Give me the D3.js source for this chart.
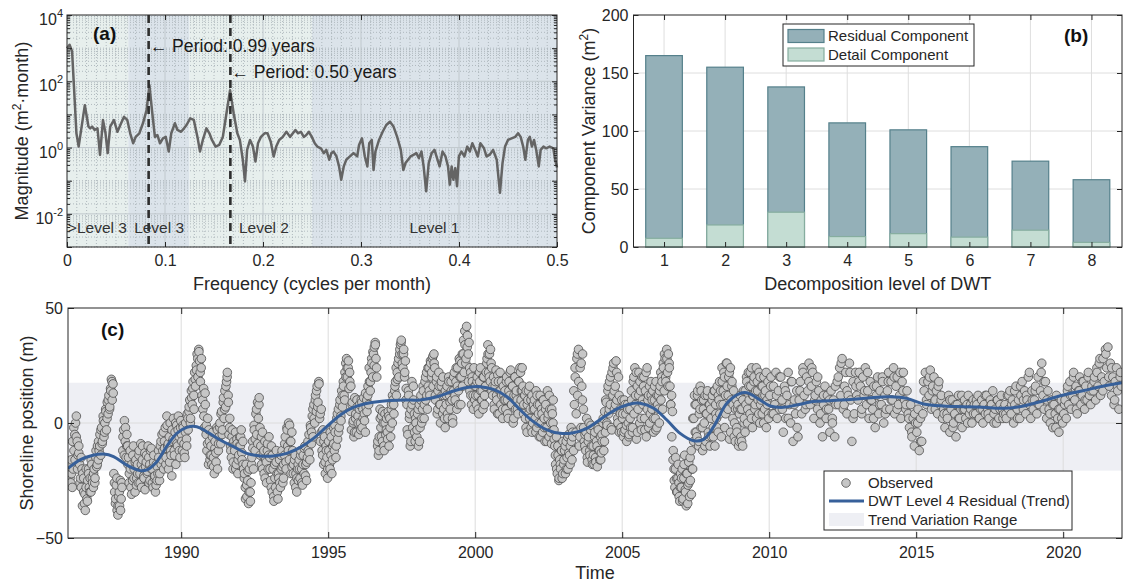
<!DOCTYPE html>
<html>
<head>
<meta charset="utf-8">
<script src="https://cdn.jsdelivr.net/npm/d3@7"></script>
<style>
  body { margin: 0; background: #fff; }
  svg { display: block; }
</style>
</head>
<body>
<div id="chart"></div>
<script>
// ---------- (a) spectrum: [frequency, magnitude] ----------
var spectrum = [[0,1000],[0.0026,1260],[0.0052,794],[0.007,79],[0.0096,2.7],[0.0119,1.07],[0.0182,19],[0.0219,4.3],[0.0237,3.8],[0.0256,4.3],
  [0.0282,3.4],[0.0311,3.8],[0.0337,0.6],[0.0367,6.8],[0.0393,2.7],[0.0415,0.68],[0.0441,4.3],[0.0478,6.8],[0.0515,3.0],[0.0552,5.4],
  [0.0582,8.5],[0.0615,6.8],[0.0645,2.7],[0.0675,1.35],[0.0701,2.1],[0.0738,2.7],[0.0775,5.4],[0.0812,13.5],[0.0841,76],[0.0867,13.5],
  [0.0897,2.1],[0.0922,2.4],[0.0949,1.35],[0.0979,1.9],[0.1008,2.1],[0.1038,0.76],[0.1064,2.7],[0.1101,5.4],[0.1127,3.4],[0.1164,3.0],
  [0.1194,3.8],[0.122,4.8],[0.1257,7.6],[0.1294,6.8],[0.1331,2.1],[0.1357,0.76],[0.1386,1.7],[0.1423,3.8],[0.1453,2.7],[0.1479,1.7],
  [0.1516,1.07],[0.1553,1.2],[0.159,2.1],[0.1627,10.7],[0.1664,54],[0.1701,10.7],[0.1738,2.7],[0.1764,1.7],[0.1794,0.43],[0.1816,0.095],
  [0.1838,0.85],[0.1868,1.7],[0.1897,1.07],[0.1923,0.38],[0.1949,1.35],[0.1979,2.1],[0.2016,2.7],[0.2046,2.7],[0.2079,1.5],[0.2109,0.54],
  [0.2135,1.07],[0.2165,1.7],[0.2202,2.1],[0.2239,3.0],[0.2276,2.1],[0.2305,2.7],[0.2331,3.4],[0.2357,2.7],[0.2387,3.0],[0.2416,2.1],
  [0.2442,2.4],[0.2468,3.0],[0.2498,2.1],[0.2528,1.35],[0.2554,1.07],[0.2591,0.95],[0.262,0.68],[0.2646,0.85],[0.2676,0.43],[0.2698,0.68],
  [0.272,0.76],[0.275,0.54],[0.2776,0.27],[0.2798,0.107],[0.2824,0.27],[0.285,0.43],[0.2887,0.54],[0.2924,0.68],[0.2961,0.54],[0.298,1.2],
  [0.301,1.9],[0.3039,0.54],[0.3065,0.27],[0.3084,1.35],[0.311,1.7],[0.3128,0.21],[0.3147,0.76],[0.3184,1.7],[0.3221,3.0],[0.3258,4.8],
  [0.3295,6.0],[0.3332,4.3],[0.3369,2.1],[0.3406,0.85],[0.3432,0.21],[0.3454,0.34],[0.348,0.43],[0.3506,0.54],[0.3535,0.6],[0.3565,0.68],
  [0.3591,0.48],[0.3617,0.76],[0.3639,0.27],[0.3665,0.048],[0.3691,0.34],[0.3721,0.68],[0.375,0.85],[0.3776,0.48],[0.3802,0.27],[0.3832,0.76],
  [0.3862,0.54],[0.3888,0.27],[0.3906,0.076],[0.3925,0.27],[0.3943,0.107],[0.3962,0.24],[0.398,0.068],[0.3999,0.54],[0.4025,0.76],[0.4055,0.54],
  [0.4084,1.07],[0.411,0.76],[0.4136,1.35],[0.4166,0.85],[0.4192,0.54],[0.4218,1.35],[0.4255,0.95],[0.4281,0.54],[0.4311,0.6],[0.4348,0.85],
  [0.4385,0.43],[0.4418,0.043],[0.4444,0.34],[0.447,1.07],[0.45,1.7],[0.4537,1.9],[0.4574,2.1],[0.4603,2.7],[0.4629,2.1],[0.4655,1.07],
  [0.4677,0.43],[0.4703,1.7],[0.4722,2.1],[0.4744,1.07],[0.4766,1.7],[0.4788,0.85],[0.4814,0.27],[0.4833,0.85],[0.4862,1.07],[0.4888,0.95],
  [0.4925,1.07],[0.4962,0.95],[0.4981,0.43],[0.5,0.25]];

var peakFreq = [0.0833, 0.1667];
var peakLabels = ["Period: 0.99 years", "Period: 0.50 years"];
var levelBands = [[0, 0.0625], [0.0625, 0.125], [0.125, 0.25], [0.25, 0.5]];
var levelNames = [">Level 3", "Level 3", "Level 2", "Level 1"];
var levelLabelFreq = [0.031, 0.094, 0.201, 0.375];

// ---------- (b) component variance ----------
var dwtLevels = [1, 2, 3, 4, 5, 6, 7, 8];
var residualVar = [165, 155, 138, 107, 101, 86.5, 74, 58];
var detailVar = [7.5, 19, 30, 9, 11.5, 8.5, 14.5, 4];

// ---------- (c) shoreline ----------
var trendYears = [1986.15,1986.56,1987.0,1987.36,1987.7,1988.15,1988.6,1988.83,1989.17,1989.5,1989.85,1990.19,1990.53,1990.87,1991.33,
  1991.78,1992.23,1992.69,1993.14,1993.59,1994.05,1994.5,1994.95,1995.41,1995.86,1996.43,1997.0,1997.56,1998.13,1998.7,1999.26,1999.72,
  2000.17,2000.62,2001.08,2001.53,2001.98,2002.44,2002.89,2003.34,2003.8,2004.48,2004.93,2005.39,2005.61,2006.07,2006.52,2006.97,2007.43,
  2007.77,2008.11,2008.56,2009.01,2009.24,2009.69,2010.03,2010.48,2010.93,2011.5,2012.06,2012.75,2013.44,2014.12,2014.68,2015.25,2015.93,
  2016.6,2017.28,2017.96,2018.65,2019.33,2020.01,2020.7,2021.38,2022.0];
var trendValues = [-19.7,-16,-14,-13.5,-14.6,-18.3,-20.7,-20.4,-16.8,-10.3,-4.5,-1.9,-1.6,-3.8,-7.4,-10.3,-13.2,-14.3,-14.3,-13.2,-10.6,
  -6.7,-1.6,3.5,6.8,8.8,9.7,10,10,11.4,13.9,15.4,15.8,14.6,11.4,5.7,0.6,-3,-4.5,-4.2,-2.3,3.5,6.8,8.6,8.6,6.4,1.3,-4.5,-7.7,-7.1,-1.6,
  8.6,12.9,13.2,10,7.4,6.8,7.8,9.3,9.7,10.2,11,11.4,10.7,8.3,7.4,7.1,6.8,6.4,7.4,9.7,12.2,14.1,16.1,17.5];

// observed positions (m): [from, to, values spread evenly over the span]
var obsRows = [
  [1986.2, 1987, [-18,-26,-22,-28,-20,-12,-5,0,3,-8,-14,-10,-18,-24,-15,-20,-22,-30,-35,-38,-28,-33,-25,-20,-28,-24,-30,-18,-26]],
  [1987, 1988, [-28,-20,-24,-15,-19,-10,-16,-12,-5,-14,-2,-8,3,-6,0,6,-3,9,4,12,7,15,19,10,17,-22,-30,-35,-27,-38,-40,-32,-36,-25,-33,-28]],
  [1988, 1989, [-12,-3,1,-8,-15,-5,-10,-15,-22,-12,-28,-18,-25,-10,-20,-30,-16,-24,-18,-26,-12,-22,-9,-28,-16,-20,-24,-13,-19,-14,-22,-10,-26,-18,-12,-20]],
  [1989, 1990, [-20,-28,-14,-24,-30,-18,-25,-22,-15,-25,-10,-18,-5,-12,-20,-8,-2,-15,3,-10,-20,-6,0,-14,-23,-8,2,-12,-4,-18,-1,-10,3,-6,-15,1]],
  [1990, 1991, [-5,-12,-2,-9,-15,0,-7,4,-3,5,10,2,14,8,18,12,22,16,25,30,20,32,27,18,24,12,6,15,-2,8,-5,-12,2,-18,-8,-14]],
  [1991, 1992, [-10,-18,-4,-15,-22,-8,-13,-2,-20,-12,-6,0,-9,5,-3,9,2,14,7,18,22,12,-5,2,-10,-15,-3,-20,-8,-12,-4,-18,-9,-22,-14,-6]],
  [1992, 1993, [-10,-3,-16,-8,-20,-22,-28,-18,-32,-25,-35,-20,-30,-26,-15,-8,-20,-3,-12,4,-5,9,2,11,-2,-10,-18,-4,-14,-22,-8,-16,-26,-12,-20,-6]],
  [1993, 1994, [-15,-25,-10,-30,-20,-34,-18,-28,-12,-22,-33,-24,-16,-28,-20,-12,-26,-18,-14,-6,-20,-2,-10,0,-16,-8,-22,-4,-12,-18,-26,-14,-22,-30,-20,-25]],
  [1994, 1995, [-16,-24,-12,-20,-27,-14,-22,-10,-18,-25,-15,-12,-5,-16,-2,-9,3,-6,8,0,12,5,16,9,18,2,-8,6,-12,-3,-18,-6,-22,-10,-15,-20]],
  [1995, 1996, [-8,-18,-4,-14,-22,-10,-2,-12,-4,-15,2,-7,6,-2,10,3,14,7,18,12,22,26,28,20,24,15,18,5,-3,9,0,-6,11,2,-4,7]],
  [1996, 1997, [3,-5,8,0,10,-2,6,11,1,-4,7,5,12,8,18,14,22,26,20,30,33,35,28,20,-10,-14,-6,6,-2,3,-8,0,-12,4,-5,2]],
  [1997, 1998, [-4,5,-10,2,-6,8,0,10,4,14,18,12,22,26,20,30,34,36,30,24,32,20,27,15,8,-5,12,2,-10,6,18,-2,10,4,-8,0]],
  [1998, 1999, [-6,4,-10,8,-2,12,0,6,14,2,18,10,22,6,16,24,12,26,20,28,16,30,24,10,18,4,14,22,8,0,16,12,20,6,2,14]],
  [1999, 2000, [8,16,2,20,12,6,18,10,0,14,22,10,18,6,24,14,28,20,8,26,16,30,22,34,26,42,38,30,35,14,22,8,18,12,24,10]],
  [2000, 2001, [16,8,20,12,4,18,24,10,14,6,20,12,16,22,28,34,22,30,18,26,14,12,20,6,16,23,10,4,18,14,22,8,12,2,16,10]],
  [2001, 2002, [14,6,20,10,2,18,12,23,8,16,0,12,20,6,14,10,4,18,8,22,14,24,16,8,12,2,14,-4,10,4,16,6,-2,12,0,8]],
  [2002, 2003, [10,2,14,-2,8,4,-6,12,0,6,-4,10,2,-8,8,-2,14,4,-6,6,0,-9,4,10,-3,-10,-18,-6,-22,-14,-25,-16,-20,-12,-24,-8]],
  [2003, 2004, [-18,-12,-22,-8,-15,-20,-5,-14,-10,-2,-16,-6,-12,8,20,-4,28,12,32,-10,24,-2,16,30,6,-8,-5,-12,2,-17,-8,0,-14,-3,-10,-18]],
  [2004, 2005, [-10,-18,-4,-15,-8,-19,-2,-12,-16,-6,-13,-8,0,-12,5,-4,9,-1,14,4,18,8,-2,22,12,26,6,16,27,10,2,20,-4,6,-2,10]],
  [2005, 2006, [2,-6,10,-3,4,-8,8,0,-5,6,-2,10,-4,18,4,24,12,-7,16,6,22,0,14,-3,20,8,20,2,14,-6,24,10,-2,16,4,12]],
  [2006, 2007, [6,14,-4,10,2,18,-2,8,12,0,16,10,20,6,24,14,28,18,32,22,30,26,16,8,12,5,-12,-20,-28,-15,-24,-30,-18,-26,-34,-22]],
  [2007, 2008, [-28,-20,-33,-24,-14,-30,-36,-22,-27,-17,-32,-25,-12,-20,2,-8,12,-4,8,-6,14,-10,4,16,-2,10,-12,6,0,12,-8,4,14,-4,8,-10]],
  [2008, 2009, [6,-6,12,-2,14,-10,8,2,16,-4,10,4,14,-6,18,8,22,-2,12,26,16,6,20,-7,24,10,18,2,14,0,-8,10,-4,6,-10,4]],
  [2009, 2010, [12,-6,6,-10,14,2,-4,8,18,0,22,10,4,16,24,-2,12,20,6,14,2,18,10,22,0,8,16,4,12,20,6,14,-2,10,18,2]],
  [2010, 2011, [12,20,4,16,8,22,2,14,6,20,10,-4,16,2,12,22,8,0,18,-8,10,4,14,-6]],
  [2011, 2012, [10,18,4,24,12,6,20,14,26,8,16,22,2,12,18,6,14,0,10,-6,8,16,2,12]],
  [2012, 2013, [6,-4,14,2,10,-6,8,18,8,24,12,28,6,16,22,4,12,26,10,-8,18,4,22,12]],
  [2013, 2014, [10,22,16,4,20,12,24,8,14,2,18,10,6,16,-2,12,20,4,14,8,18,0,12,6]],
  [2014, 2015, [14,22,6,18,10,24,4,16,20,8,12,2,18,22,10,6,14,4,-2,8,-6,2,-10,0]],
  [2015, 2016, [-4,6,-12,2,-8,4,14,22,8,18,12,23,6,16,20,10,14,4,18,8,12,2,6,-2]],
  [2016, 2017, [8,2,12,-4,6,10,0,4,-6,8,12,2,6,-2,6,10,2,8,12,4,6,0,10,8]],
  [2017, 2018, [4,8,12,2,6,10,0,8,4,12,6,2,10,8,14,4,6,0,10,2,8,12,6,4]],
  [2018, 2019, [8,2,12,6,14,4,10,0,8,16,6,10,2,12,18,6,14,4,10,20,8,2,14,6]],
  [2019, 2020, [10,16,4,20,8,14,26,12,6,18,2,14,6,0,10,-2,8,4,12,2,-4,6,10,0]],
  [2020, 2021, [4,10,2,14,8,18,6,12,22,10,16,4,14,20,8,12,18,6,16,10,22,12,8,16]],
  [2021, 2022, [14,20,10,24,16,26,12,20,28,18,32,24,33,16,26,12,20,8,18,24,14,6,20,16]]
];

// further observations in the same spans (the survey is much denser before 2010)
var obsRowsExtra = [
  [1986.2, 1987, [-24,-16,-8,-2,-16,-6,-20,-13,-26,-28,-36,-24,-31,-20,-34,-22,-30,-16,-24]],
  [1987, 1988, [-22,-26,-12,-18,-8,-10,-3,-9,1,-4,5,2,10,6,14,18,13,-26,-33,-24,-36,-30,-38,-26]],
  [1988, 1989, [-6,-14,-2,-10,-18,-26,-20,-31,-14,-24,-17,-27,-22,-14,-26,-18,-10,-23,-29,-17,-21,-15,-25,-11]],
  [1989, 1990, [-26,-17,-23,-27,-19,-12,-22,-8,-16,-4,-11,-18,-1,-9,-17,-12,-3,-7,-14,0,-9,-3,-12,-2]],
  [1990, 1991, [-8,-1,-13,-4,-10,2,7,0,11,15,6,19,23,28,31,22,28,10,3,13,-1,-9,-3,-16]],
  [1991, 1992, [-14,-6,-19,-11,-17,-3,-9,-2,4,-5,11,6,16,20,9,-2,-12,-6,-17,-10,-20,-7,-16,-10]],
  [1992, 1993, [-6,-13,-18,-24,-33,-27,-21,-30,-34,-18,-11,-1,-7,6,-9,8,-14,-6,-20,-12,-24,-17,-9,-14]],
  [1993, 1994, [-20,-28,-14,-32,-24,-17,-30,-22,-26,-14,-19,-24,-9,-17,-3,-12,-1,-8,-19,-22,-16,-28,-24,-18]],
  [1994, 1995, [-20,-14,-26,-18,-11,-23,-17,-8,-13,-1,-4,6,2,10,14,7,17,4,-4,-14,-8,-17,-12,-24]],
  [1995, 1996, [-12,-20,-6,-16,-9,-1,-10,4,-4,8,1,12,16,10,20,24,27,22,16,8,1,-4,4,10]],
  [1996, 1997, [0,6,-3,9,2,4,13,10,16,24,18,28,31,25,34,24,-8,-12,2,-6,5,-10,0,-3]],
  [1997, 1998, [-7,3,-2,6,12,8,16,24,19,28,32,35,26,30,22,10,-3,14,4,-8,8,16,-4,2]],
  [1998, 1999, [-3,6,-8,10,2,16,8,20,12,24,14,27,22,29,26,12,20,6,16,8,18,4,12,-2]],
  [1999, 2000, [12,4,18,9,14,2,20,12,24,16,8,27,20,30,36,40,28,33,18,24,12,20,6,16]],
  [2000, 2001, [12,18,6,22,14,10,20,8,16,26,30,20,32,24,16,8,18,12,21,4,14,18,6,12]],
  [2001, 2002, [10,18,4,14,22,8,16,2,20,12,6,18,24,10,14,4,12,-2,8,14,2,10,-4,6]],
  [2002, 2003, [6,-4,12,0,8,-6,4,10,-2,6,-8,2,12,-4,6,0,-7,-14,-20,-10,-24,-18,-12,-22]],
  [2003, 2004, [-16,-10,-20,-6,-13,-18,-8,-4,14,24,4,30,18,-6,26,10,-2,-10,-4,-15,-6,-12,-1,-16]],
  [2004, 2005, [-14,-6,-17,-10,-3,-12,-16,-5,2,-8,10,0,16,6,20,-3,24,14,8,22,0,12,4,-4]],
  [2005, 2006, [4,-4,8,-1,6,-6,2,14,-2,20,8,22,-4,12,18,2,10,16,-3,22,6,12,0,18]],
  [2006, 2007, [10,2,16,-3,12,6,14,22,18,26,30,20,28,16,24,8,-6,-16,-25,-20,-30,-24,-32,-28]],
  [2007, 2008, [-24,-34,-18,-29,-22,-35,-26,-15,-31,-20,2,8,-4,12,-8,6,14,-2,10,-10,4,12,-6,8]],
  [2008, 2009, [2,10,-6,14,4,-2,12,18,8,24,14,20,4,26,12,22,-4,16,8,-6,6,-2,8,-8]],
  [2009, 2010, [6,-8,10,0,14,20,6,16,22,2,12,18,8,24,14,4,20,10,16,0,12,22,8,4]],
  [2010, 2011, [16,4,12,20,6,14,2,18,8,-2]],
  [2011, 2012, [14,22,8,18,24,10,20,4,12,6]],
  [2012, 2013, [10,0,16,20,26,8,14,22,2,16]],
  [2013, 2014, [18,6,14,22,10,2,16,8,20,4]],
  [2014, 2015, [18,10,20,6,22,14,8,2,-4,4]],
  [2015, 2016, [0,-8,18,10,20,14,6,16,10,4]],
  [2016, 2017, [4,10,-2,8,2,12,6,0,8,4]],
  [2017, 2018, [10,2,6,12,4,8,0,10,6,2]],
  [2018, 2019, [4,12,8,14,2,16,10,12,22,10]],
  [2019, 2020, [14,8,22,18,10,4,8,-2,6,2]],
  [2020, 2021, [8,16,12,20,6,14,18,10,20,14]],
  [2021, 2022, [18,22,28,14,30,20,24,10,16,22]]
];
var yearTicks = [1990, 1995, 2000, 2005, 2010, 2015, 2020];

var FONT = "'Liberation Sans', Arial, Helvetica, sans-serif";
var INK = "#262626";

var svg = d3.select("#chart").append("svg")
  .attr("width", 1123).attr("height", 585)
  .style("font-family", FONT);

create_spectrum();
create_variance();
create_shoreline();

function style_axis(sel, fs) {
  sel.select(".domain").remove();
  sel.attr("font-family", FONT).attr("font-size", fs || 16);
  sel.selectAll(".tick line").attr("stroke", INK);
  sel.selectAll(".tick text").attr("fill", INK);
}

function draw_box(g, p) {
  g.append("rect")
    .attr("x", p.left).attr("y", p.top)
    .attr("width", p.right - p.left).attr("height", p.bottom - p.top)
    .attr("fill", "none").attr("stroke", INK).attr("stroke-width", 1);
}

function create_spectrum() {
  var p = {left: 67, right: 557, top: 15, bottom: 247};
  var x = d3.scaleLinear().domain([0, 0.5]).range([p.left, p.right]);
  var y = d3.scaleLog().domain([1e-3, 1e4]).range([p.bottom, p.top]);
  var g = svg.append("g");

  // level shading
  g.selectAll("rect.band")
    .data(levelBands)
    .join("rect")
      .attr("x", d => x(d[0]))
      .attr("y", p.top)
      .attr("width", d => x(d[1]) - x(d[0]))
      .attr("height", p.bottom - p.top)
      .attr("fill", (d, i) => i % 2 ? "#dbe3ea" : "#e7efed");

  // minor grid (dotted)
  var xMinor = d3.range(1, 50).filter(i => i % 10).map(i => i / 100);
  var yMinor = [];
  for (var e = -3; e < 4; e++) {
    for (var k = 2; k < 10; k++) yMinor.push(k * Math.pow(10, e));
    if (e % 2 !== 0) yMinor.push(Math.pow(10, e));
  }
  g.append("g").selectAll("line")
    .data(xMinor)
    .join("line")
      .attr("x1", d => x(d)).attr("x2", d => x(d))
      .attr("y1", p.top).attr("y2", p.bottom)
      .attr("stroke", "#a9b2b8").attr("stroke-width", 0.9).attr("stroke-dasharray", "1,2");
  g.append("g").selectAll("line")
    .data(yMinor)
    .join("line")
      .attr("x1", p.left).attr("x2", p.right)
      .attr("y1", d => y(d)).attr("y2", d => y(d))
      .attr("stroke", "#a9b2b8").attr("stroke-width", 0.9).attr("stroke-dasharray", "1,2");

  // major grid
  g.append("g").selectAll("line")
    .data([0.1, 0.2, 0.3, 0.4])
    .join("line")
      .attr("x1", d => x(d)).attr("x2", d => x(d))
      .attr("y1", p.top).attr("y2", p.bottom)
      .attr("stroke", "#c0c8cd").attr("stroke-width", 1);
  g.append("g").selectAll("line")
    .data([1e-2, 1, 1e2])
    .join("line")
      .attr("x1", p.left).attr("x2", p.right)
      .attr("y1", d => y(d)).attr("y2", d => y(d))
      .attr("stroke", "#c0c8cd").attr("stroke-width", 1);

  // spectrum line
  g.append("path")
    .datum(spectrum)
    .attr("fill", "none")
    .attr("stroke", "#646464")
    .attr("stroke-width", 2.5)
    .attr("stroke-linejoin", "round")
    .attr("d", d3.line().x(d => x(d[0])).y(d => y(d[1])));

  // dominant periods
  g.selectAll("line.peak")
    .data(peakFreq)
    .join("line")
      .attr("x1", d => x(d)).attr("x2", d => x(d))
      .attr("y1", p.top).attr("y2", p.bottom)
      .attr("stroke", "#2e2e2e").attr("stroke-width", 2.6)
      .attr("stroke-dasharray", "8,5");

  g.selectAll("text.peak")
    .data(peakFreq)
    .join("text")
      .attr("x", d => x(d) + 1)
      .attr("y", (d, i) => 52 + i * 26)
      .attr("font-size", 17.6)
      .attr("fill", "#1a1a1a")
      .text((d, i) => "\u2190 " + peakLabels[i]);

  g.selectAll("text.level")
    .data(levelNames)
    .join("text")
      .attr("x", (d, i) => x(levelLabelFreq[i]))
      .attr("y", 233)
      .attr("text-anchor", "middle")
      .attr("font-size", 15.5)
      .attr("fill", "#333")
      .text(d => d);

  g.append("text")
    .attr("x", 93).attr("y", 40)
    .attr("font-size", 19).attr("font-weight", "bold").attr("fill", "#111")
    .text("(a)");

  // axes
  var decades = [1e-3, 1e-2, 1e-1, 1, 10, 1e2, 1e3, 1e4];
  var minorTicks = yMinor.filter(d => decades.indexOf(d) < 0);
  g.append("g").attr("transform", "translate(0," + p.bottom + ")")
    .call(d3.axisBottom(x).tickValues([0, 0.1, 0.2, 0.3, 0.4, 0.5]).tickSize(-5).tickPadding(8).tickFormat(d3.format("~g")))
    .call(style_axis);
  g.append("g").attr("transform", "translate(0," + p.top + ")")
    .call(d3.axisTop(x).tickValues([0.1, 0.2, 0.3, 0.4]).tickSize(-5).tickFormat(""))
    .call(style_axis);
  g.append("g").attr("transform", "translate(" + p.left + ",0)")
    .call(d3.axisLeft(y).tickValues(decades).tickSize(-5).tickFormat(""))
    .call(style_axis);
  g.append("g").attr("transform", "translate(" + p.left + ",0)")
    .call(d3.axisLeft(y).tickValues(minorTicks).tickSize(-3).tickFormat(""))
    .call(style_axis);
  g.append("g").attr("transform", "translate(" + p.right + ",0)")
    .call(d3.axisRight(y).tickValues(decades).tickSize(-5).tickFormat(""))
    .call(style_axis);
  g.append("g").attr("transform", "translate(" + p.right + ",0)")
    .call(d3.axisRight(y).tickValues(minorTicks).tickSize(-3).tickFormat(""))
    .call(style_axis);

  g.selectAll("text.ylab")
    .data([1e-2, 1, 1e2, 1e4])
    .join("text")
      .attr("x", p.left - 4)
      .attr("y", d => y(d) + 10)
      .attr("text-anchor", "end")
      .attr("font-size", 16)
      .attr("fill", INK)
      .each(function(d) {
        var t = d3.select(this);
        t.append("tspan").text("10");
        t.append("tspan").attr("dy", -8).attr("font-size", 11).text(Math.round(Math.log10(d)));
      });

  draw_box(g, p);

  g.append("text")
    .attr("x", (p.left + p.right) / 2).attr("y", 290)
    .attr("text-anchor", "middle").attr("font-size", 18).attr("fill", INK)
    .text("Frequency (cycles per month)");

  var yt = g.append("text")
    .attr("transform", "translate(28," + ((p.top + p.bottom) / 2) + ") rotate(-90)")
    .attr("text-anchor", "middle").attr("font-size", 18).attr("fill", INK);
  yt.append("tspan").text("Magnitude (m");
  yt.append("tspan").attr("dy", -7).attr("font-size", 12).text("2");
  yt.append("tspan").attr("dy", 7).text("\u00b7month)");
}

function create_variance() {
  var p = {left: 633.5, right: 1122, top: 15, bottom: 247};
  var x = d3.scaleLinear().domain([0.5, 8.5]).range([p.left, p.right]);
  var y = d3.scaleLinear().domain([0, 200]).range([p.bottom, p.top]);
  var g = svg.append("g");
  var half = 0.3;

  g.append("g").selectAll("line")
    .data(dwtLevels)
    .join("line")
      .attr("x1", d => x(d)).attr("x2", d => x(d))
      .attr("y1", p.top).attr("y2", p.bottom)
      .attr("stroke", "#dedede");
  g.append("g").selectAll("line")
    .data([50, 100, 150])
    .join("line")
      .attr("x1", p.left).attr("x2", p.right)
      .attr("y1", d => y(d)).attr("y2", d => y(d))
      .attr("stroke", "#dedede");

  g.selectAll("rect.res")
    .data(residualVar)
    .join("rect")
      .attr("x", (d, i) => x(dwtLevels[i] - half))
      .attr("width", x(1 + half) - x(1 - half))
      .attr("y", d => y(d))
      .attr("height", d => y(0) - y(d))
      .attr("fill", "#94b0b8")
      .attr("stroke", "#55808b")
      .attr("stroke-width", 1.2);

  g.selectAll("rect.det")
    .data(detailVar)
    .join("rect")
      .attr("x", (d, i) => x(dwtLevels[i] - half))
      .attr("width", x(1 + half) - x(1 - half))
      .attr("y", d => y(d))
      .attr("height", d => y(0) - y(d))
      .attr("fill", "#c4ddd3")
      .attr("stroke", "#86ad9f")
      .attr("stroke-width", 1.2);

  g.append("g").attr("transform", "translate(0," + p.bottom + ")")
    .call(d3.axisBottom(x).tickValues(dwtLevels).tickSize(-5).tickPadding(8))
    .call(style_axis);
  g.append("g").attr("transform", "translate(0," + p.top + ")")
    .call(d3.axisTop(x).tickValues(dwtLevels).tickSize(-5).tickFormat(""))
    .call(style_axis);
  g.append("g").attr("transform", "translate(" + p.left + ",0)")
    .call(d3.axisLeft(y).tickValues([0, 50, 100, 150, 200]).tickSize(-5).tickPadding(5))
    .call(style_axis);
  g.append("g").attr("transform", "translate(" + p.right + ",0)")
    .call(d3.axisRight(y).tickValues([0, 50, 100, 150, 200]).tickSize(-5).tickFormat(""))
    .call(style_axis);
  draw_box(g, p);

  // legend
  var lg = g.append("g");
  lg.append("rect").attr("x", 783).attr("y", 24).attr("width", 191).attr("height", 42)
    .attr("fill", "#fff").attr("stroke", INK);
  lg.append("rect").attr("x", 788).attr("y", 29.5).attr("width", 36).attr("height", 13)
    .attr("fill", "#94b0b8").attr("stroke", "#55808b").attr("stroke-width", 1.2);
  lg.append("rect").attr("x", 788).attr("y", 48).attr("width", 36).attr("height", 13)
    .attr("fill", "#c4ddd3").attr("stroke", "#86ad9f").attr("stroke-width", 1.2);
  lg.append("text").attr("x", 828).attr("y", 41).attr("font-size", 15).attr("fill", INK).text("Residual Component");
  lg.append("text").attr("x", 828).attr("y", 60).attr("font-size", 15).attr("fill", INK).text("Detail Component");

  g.append("text")
    .attr("x", 1064).attr("y", 42)
    .attr("font-size", 19).attr("font-weight", "bold").attr("fill", "#111")
    .text("(b)");

  g.append("text")
    .attr("x", (p.left + p.right) / 2).attr("y", 290)
    .attr("text-anchor", "middle").attr("font-size", 18).attr("fill", INK)
    .text("Decomposition level of DWT");

  var yt = g.append("text")
    .attr("transform", "translate(595," + ((p.top + p.bottom) / 2) + ") rotate(-90)")
    .attr("text-anchor", "middle").attr("font-size", 18).attr("fill", INK);
  yt.append("tspan").text("Component Variance (m");
  yt.append("tspan").attr("dy", -7).attr("font-size", 12).text("2");
  yt.append("tspan").attr("dy", 7).text(")");
}

function spread_rows(rows, out) {
  rows.forEach(function(r) {
    var n = r[2].length;
    r[2].forEach(function(v, i) {
      out.push({t: r[0] + (r[1] - r[0]) * (i + 0.5) / n, v: v});
    });
  });
  return out;
}

function create_shoreline() {
  var p = {left: 68, right: 1122, top: 308, bottom: 538};
  var x = d3.scaleLinear().domain([1986.15, 2022.0]).range([p.left, p.right]);
  var y = d3.scaleLinear().domain([-50, 50]).range([p.bottom, p.top]);
  var g = svg.append("g");

  var observed = spread_rows(obsRowsExtra, spread_rows(obsRows, []));
  observed.sort((a, b) => a.t - b.t);
  var trend = trendYears.map((t, i) => ({t: t, v: trendValues[i]}));
  var range = d3.extent(trendValues);

  svg.append("clipPath").attr("id", "clipc")
    .append("rect").attr("x", p.left).attr("y", p.top)
    .attr("width", p.right - p.left).attr("height", p.bottom - p.top);

  g.append("rect")
    .attr("x", p.left).attr("width", p.right - p.left)
    .attr("y", y(range[1])).attr("height", y(range[0]) - y(range[1]))
    .attr("fill", "#eeeff4");

  g.append("g").selectAll("line")
    .data(yearTicks)
    .join("line")
      .attr("x1", d => x(d)).attr("x2", d => x(d))
      .attr("y1", p.top).attr("y2", p.bottom)
      .attr("stroke", "#dcdcdc");
  g.append("line")
    .attr("x1", p.left).attr("x2", p.right)
    .attr("y1", y(0)).attr("y2", y(0))
    .attr("stroke", "#dcdcdc");

  var plot = g.append("g").attr("clip-path", "url(#clipc)");
  plot.selectAll("circle")
    .data(observed)
    .join("circle")
      .attr("cx", d => x(d.t))
      .attr("cy", d => y(d.v))
      .attr("r", 4.3)
      .attr("fill", "#c6c6c6")
      .attr("stroke", "#4d4d4d")
      .attr("stroke-width", 0.8);

  plot.append("path")
    .datum(trend)
    .attr("fill", "none")
    .attr("stroke", "#37609a")
    .attr("stroke-width", 3)
    .attr("d", d3.line().x(d => x(d.t)).y(d => y(d.v)).curve(d3.curveCatmullRom.alpha(0.5)));

  g.append("g").attr("transform", "translate(0," + p.bottom + ")")
    .call(d3.axisBottom(x).tickValues(yearTicks).tickSize(-6).tickPadding(9).tickFormat(d3.format("d")))
    .call(style_axis);
  g.append("g").attr("transform", "translate(0," + p.top + ")")
    .call(d3.axisTop(x).tickValues(yearTicks).tickSize(-6).tickFormat(""))
    .call(style_axis);
  g.append("g").attr("transform", "translate(" + p.left + ",0)")
    .call(d3.axisLeft(y).tickValues([-50, 0, 50]).tickSize(-6).tickPadding(5))
    .call(style_axis);
  g.append("g").attr("transform", "translate(" + p.right + ",0)")
    .call(d3.axisRight(y).tickValues([-50, 0, 50]).tickSize(-6).tickFormat(""))
    .call(style_axis);
  draw_box(g, p);

  g.append("text")
    .attr("x", 101).attr("y", 336)
    .attr("font-size", 19).attr("font-weight", "bold").attr("fill", "#111")
    .text("(c)");

  // legend
  var lg = g.append("g");
  lg.append("rect").attr("x", 824).attr("y", 471).attr("width", 248).attr("height", 59)
    .attr("fill", "#fff").attr("stroke", INK);
  lg.append("circle").attr("cx", 846).attr("cy", 483).attr("r", 4.3)
    .attr("fill", "#c6c6c6").attr("stroke", "#4d4d4d").attr("stroke-width", 0.8);
  lg.append("line").attr("x1", 829).attr("x2", 864).attr("y1", 501).attr("y2", 501)
    .attr("stroke", "#37609a").attr("stroke-width", 3);
  lg.append("rect").attr("x", 829).attr("y", 513).attr("width", 35).attr("height", 13)
    .attr("fill", "#eeeff4");
  lg.selectAll("text")
    .data(["Observed", "DWT Level 4 Residual (Trend)", "Trend Variation Range"])
    .join("text")
      .attr("x", 868)
      .attr("y", (d, i) => [488, 506, 525][i])
      .attr("font-size", 15)
      .attr("fill", INK)
      .text(d => d);

  g.append("text")
    .attr("x", (p.left + p.right) / 2).attr("y", 579)
    .attr("text-anchor", "middle").attr("font-size", 18).attr("fill", INK)
    .text("Time");

  g.append("text")
    .attr("transform", "translate(33," + ((p.top + p.bottom) / 2) + ") rotate(-90)")
    .attr("text-anchor", "middle").attr("font-size", 18).attr("fill", INK)
    .text("Shoreline position (m)");
}
</script>
</body>
</html>
